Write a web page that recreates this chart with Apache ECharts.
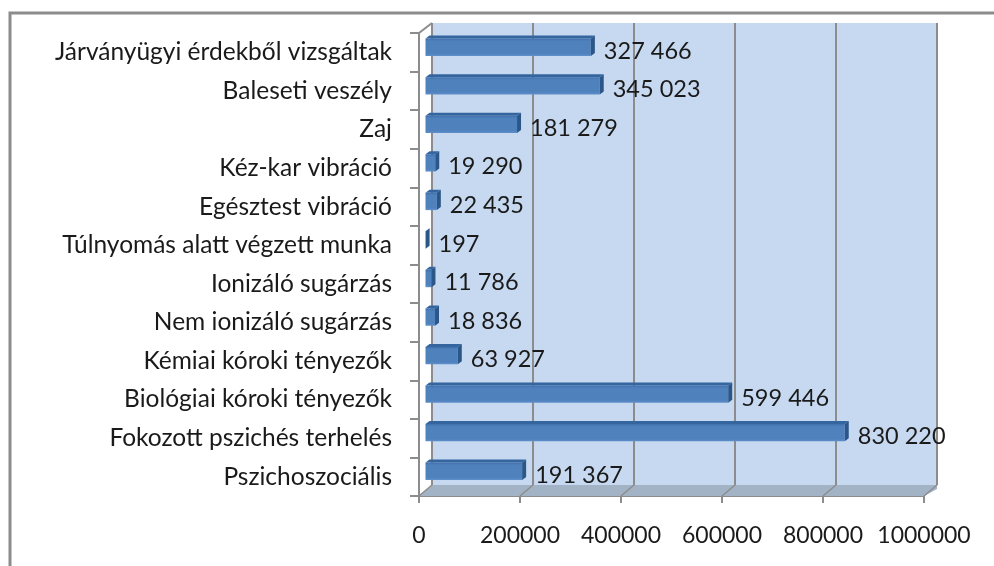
<!DOCTYPE html>
<html>
<head>
<meta charset="utf-8">
<script src="https://cdn.jsdelivr.net/npm/echarts@6/dist/echarts.min.js"></script>
<style>
  html, body { margin: 0; padding: 0; background: #fff; }
  #chart { width: 994px; height: 566px; }
</style>
</head>
<body>
<div id="chart"></div>
<script>
// adatok
const categories = [
  'Járványügyi érdekből vizsgáltak',
  'Baleseti veszély',
  'Zaj',
  'Kéz-kar vibráció',
  'Egésztest vibráció',
  'Túlnyomás alatt végzett munka',
  'Ionizáló sugárzás',
  'Nem ionizáló sugárzás',
  'Kémiai kóroki tényezők',
  'Biológiai kóroki tényezők',
  'Fokozott pszichés terhelés',
  'Pszichoszociális'
]
const values = [327466, 345023, 181279, 19290, 22435, 197, 11786, 18836, 63927, 599446, 830220, 191367]
const axisMin = 0
const axisMax = 1000000
const axisStep = 200000

const FONT = 'Lato, "Open Sans", sans-serif'
const GRAY = '#8c8c8c'

// ezres tagolás szóközzel
const fmt = (v) => String(v).replace(/\B(?=(\d{3})+(?!\d))/g, '\u00a0')

const chart = echarts.init(document.getElementById('chart'))

const valueAxis = (gridIndex, extra) => Object.assign({
  type: 'value',
  gridIndex,
  min: axisMin,
  max: axisMax,
  interval: axisStep,
  axisLine: { show: false },
  axisTick: { show: false },
  axisLabel: { show: false },
  splitLine: { show: false }
}, extra)

const catAxis = (gridIndex, extra) => Object.assign({
  type: 'category',
  gridIndex,
  data: categories,
  inverse: true,
  axisLine: { show: false },
  axisTick: { show: false },
  axisLabel: { show: false },
  splitLine: { show: false }
}, extra)

const option = {
  animation: false,
  grid: [
    // hátsó fal
    { left: 432, top: 23, width: 505, height: 462, show: true, backgroundColor: '#c6d9f0', borderWidth: 0 },
    // elülső tengelyek
    { left: 419, top: 33, width: 505, height: 463 },
    // oszlopok (középső mélység)
    { left: 425.5, top: 28, width: 505, height: 462.5 }
  ],
  xAxis: [
    valueAxis(0, { splitLine: { show: true, lineStyle: { color: GRAY, width: 2 } } }),
    valueAxis(1, {
      axisLine: { show: true, lineStyle: { color: GRAY, width: 2 } },
      axisTick: { show: true, length: 7, lineStyle: { color: GRAY, width: 2 } },
      axisLabel: { show: true, margin: 28, fontSize: 23, color: '#1a1a1a', fontFamily: FONT, formatter: (v) => String(v) }
    }),
    valueAxis(2)
  ],
  yAxis: [
    catAxis(0),
    catAxis(1, {
      axisLine: { show: true, lineStyle: { color: GRAY, width: 2 } },
      axisTick: { show: true, length: 9, lineStyle: { color: GRAY, width: 2 } },
      axisLabel: { show: true, margin: 27, fontSize: 24.5, color: '#1a1a1a', fontFamily: FONT }
    }),
    catAxis(2)
  ],
  graphic: [
    {
      type: 'polyline',
      shape: { points: [[10, 566], [10, 13], [994, 13]] },
      style: { stroke: GRAY, lineWidth: 3, fill: null },
      z: 100
    }
  ],
  series: [
    {
      // padló és ferde vonalak
      type: 'custom',
      xAxisIndex: 0,
      yAxisIndex: 0,
      data: [[0, 0]],
      silent: true,
      z: 1,
      renderItem: (params, api) => {
        const cs = params.coordSys
        const dx = -13
        const dy = 11
        const by = cs.y + cs.height
        const children = [
          {
            type: 'polygon',
            shape: { points: [[cs.x, by], [cs.x + cs.width, by], [cs.x + cs.width, by + 4], [cs.x + cs.width + dx, by + dy], [cs.x + dx, by + dy]] },
            style: { fill: '#a3b3c6' }
          },
          {
            type: 'line',
            shape: { x1: cs.x, y1: cs.y, x2: cs.x + dx, y2: cs.y + 10 },
            style: { stroke: GRAY, lineWidth: 2 }
          }
        ]
        for (let v = axisMin; v <= axisMax; v += axisStep) {
          const x = api.coord([v, 0])[0]
          children.push({
            type: 'line',
            shape: { x1: x, y1: by, x2: x + dx, y2: by + dy },
            style: { stroke: GRAY, lineWidth: 1.5 }
          })
        }
        return { type: 'group', children }
      }
    },
    {
      // 3D hatású sávok
      type: 'custom',
      xAxisIndex: 2,
      yAxisIndex: 2,
      data: values.map((v, i) => [v, i]),
      encode: { x: 0, y: 1 },
      z: 5,
      renderItem: (params, api) => {
        const idx = api.value(1)
        const p0 = api.coord([0, idx])
        const p1 = api.coord([api.value(0), idx])
        const band = api.size([0, 1])[1]
        const h = band * 0.45
        const top = p0[1] - h / 2
        const bot = p0[1] + h / 2
        const x0 = p0[0]
        const x1 = p1[0]
        const d = 4
        const e = 3
        return {
          type: 'group',
          children: [
            {
              type: 'polygon',
              shape: { points: [[x0, top], [x1, top], [x1 + d, top - e], [x0 + d, top - e]] },
              style: { fill: '#35659f' }
            },
            {
              type: 'rect',
              shape: { x: x0, y: top, width: x1 - x0, height: h },
              style: {
                fill: new echarts.graphic.LinearGradient(0, 0, 0, 1, [
                  { offset: 0, color: '#3f70ad' },
                  { offset: 0.15, color: '#4f81bd' },
                  { offset: 0.85, color: '#4f81bd' },
                  { offset: 1, color: '#5f8fca' }
                ])
              }
            },
            {
              type: 'polygon',
              shape: { points: [[x1, top], [x1 + d, top - e], [x1 + d, bot - e], [x1, bot]] },
              style: { fill: '#2b5688' }
            },
            {
              type: 'text',
              style: {
                x: x1 + 13,
                y: p1[1] + 4,
                text: fmt(api.value(0)),
                fontSize: 23.5,
                fontFamily: FONT,
                fill: '#1a1a1a',
                verticalAlign: 'middle',
                align: 'left'
              },
              z2: 10
            }
          ]
        }
      }
    }
  ]
}

chart.setOption(option)
window.addEventListener('resize', () => chart.resize())
</script>
</body>
</html>
